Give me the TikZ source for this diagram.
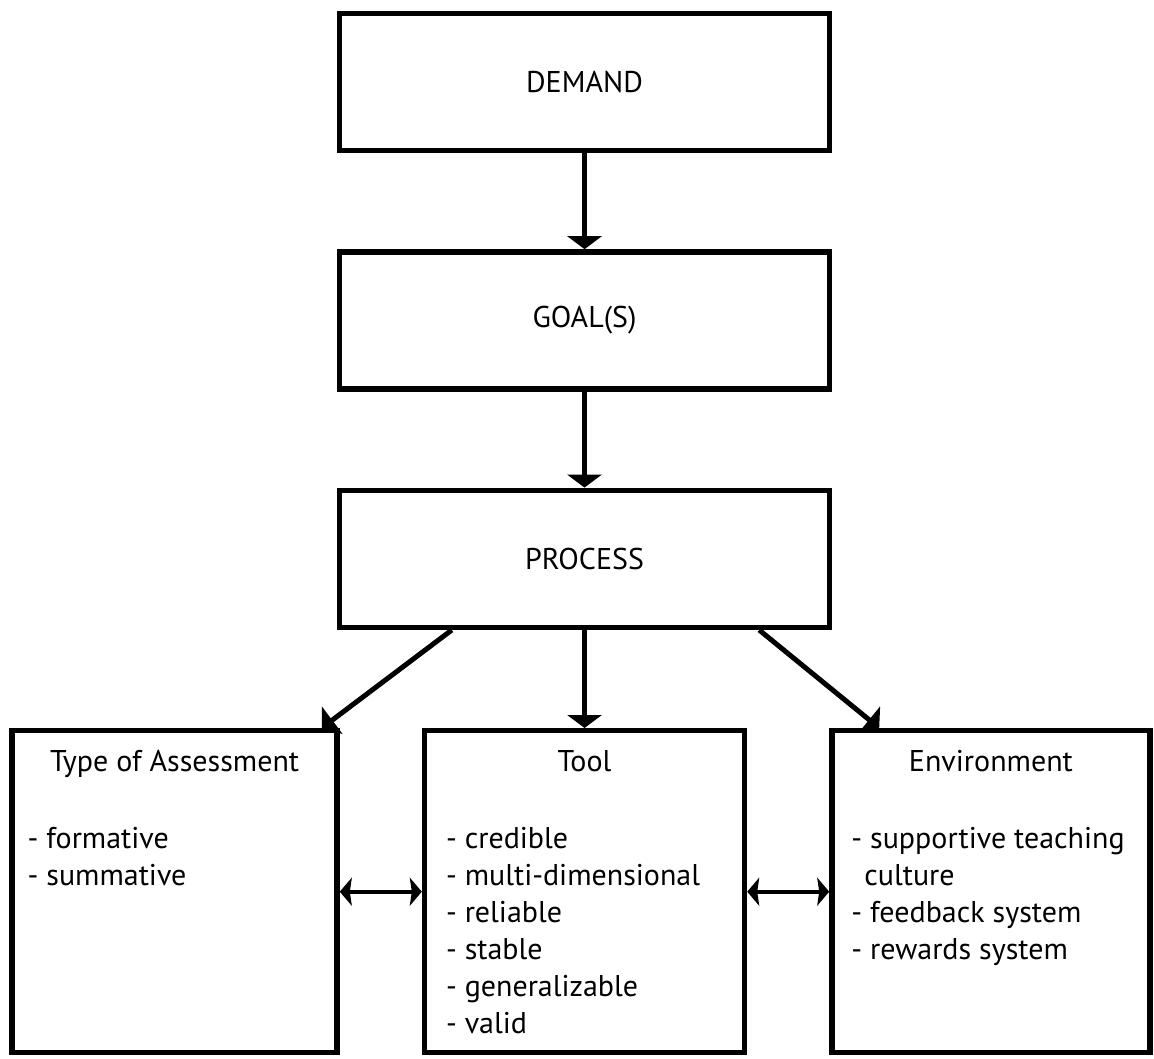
\documentclass[tikz,border=0pt]{standalone}
\usepackage{fontspec}
\setmainfont{PT Sans}
\usetikzlibrary{arrows.meta,positioning,backgrounds}

\newcommand{\partbox}[4]{\parbox[c][161pt][t]{#1}{\vspace*{7.3pt}\centering\strut #3\par
	\vspace{20pt}\raggedright\setlength{\leftskip}{#2}#4\par}}

\begin{document}
\begin{tikzpicture}[line width=2.7pt,node distance=48pt,font=\fontsize{15}{18.5}\selectfont]
		\tikzstyle{stage}=[draw,fill=white,minimum width=245pt,minimum height=68.5pt]
		\tikzstyle{part}=[draw,fill=white,inner sep=0pt]
		\tikzstyle{flow}=[-{Triangle[width=17pt,length=6.5pt]},line width=2.5pt]
		\tikzstyle{link}=[{Stealth[width=14pt,length=6pt,inset=1pt]}-{Stealth[width=14pt,length=6pt,inset=1pt]},line width=2pt]
		
		\useasboundingbox (0,0) rectangle (577pt,-529pt);
		
		\node[stage] (demand) at (292.25pt,-41pt) {DEMAND};
		\node[stage] (goals) [below=of demand] {GOAL(S)};
		\node[stage] (process) [below=of goals] {PROCESS};
		\node[part] (tool) [below=49pt of process] {\partbox{160pt}{10.75pt}{Tool}{- credible\\- multi-dimensional\\- reliable\\- stable\\- generalizable\\- valid}};
		\node[part] (assess) [left=41pt of tool] {\partbox{162.5pt}{7.75pt}{Type of Assessment}{- formative\\- summative}};
		\node[part] (env) [right=41pt of tool] {\partbox{159pt}{9.75pt}{Environment}{- supportive teaching\\\hspace*{6.5pt}culture\\- feedback system\\- rewards system}};
		
		\begin{pgfonlayer}{background}
		\draw[flow] (demand) -- (goals);
		\draw[flow] (goals) -- (process);
		\draw[flow] (process) -- (tool);
		\draw[flow] ([xshift=57.5pt]process.south west) -- ([xshift=-9pt]assess.north east);
		\draw[flow] ([xshift=-36.5pt]process.south east) -- ([xshift=25pt]env.north west);
		\draw[link] (assess) -- (tool);
		\draw[link] (tool) -- (env);
		\end{pgfonlayer}
	
	\end{tikzpicture}
\end{document}
